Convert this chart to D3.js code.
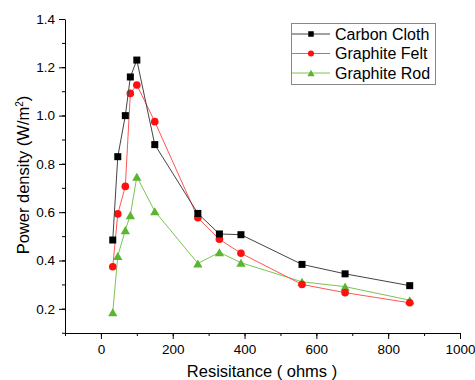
<!DOCTYPE html>
<html>
<head>
<meta charset="utf-8">
<script src="https://cdn.jsdelivr.net/npm/d3@7"></script>
<style>
  body { margin: 0; background: #fff; }
  text { font-family: "Liberation Sans", Arial, sans-serif; fill: #000; }
</style>
</head>
<body>
<div id="chart"></div>
<script>
const width = 475;
const height = 380;

// data
const resistance = [33, 47, 68, 82, 100, 150, 270, 330, 390, 560, 680, 860];
const carbonCloth = [0.485, 0.83, 1.0, 1.16, 1.23, 0.88, 0.595, 0.51, 0.507, 0.384, 0.345, 0.296];
const graphiteFelt = [0.374, 0.593, 0.707, 1.092, 1.127, 0.975, 0.577, 0.488, 0.43, 0.301, 0.267, 0.225];
const graphiteRod = [0.186, 0.419, 0.526, 0.588, 0.747, 0.604, 0.388, 0.434, 0.391, 0.312, 0.292, 0.236];

const seriesNames = ["Carbon Cloth", "Graphite Felt", "Graphite Rod"];
const xTicks = [0, 200, 400, 600, 800, 1000];
const yTicks = [0.2, 0.4, 0.6, 0.8, 1.0, 1.2, 1.4];

const series = [
  { name: seriesNames[0], values: carbonCloth, color: "#000000", line: "#444444", shape: "square" },
  { name: seriesNames[1], values: graphiteFelt, color: "#ff1010", line: "#ff5555", shape: "circle" },
  { name: seriesNames[2], values: graphiteRod, color: "#5cb531", line: "#7cc550", shape: "triangle" }
];

const svg = d3.select("#chart")
    .append("svg")
    .attr("width", width)
    .attr("height", height);

const x = d3.scaleLinear().domain([-100, 1000]).range([65, 460]);
const y = d3.scaleLinear().domain([0.1, 1.4]).range([333, 19]);

// minor ticks first (short), then major axis with labels
svg.append("g")
    .attr("transform", "translate(0,333)")
    .call(d3.axisBottom(x).tickValues(d3.range(-100, 1001, 100)).tickSize(3).tickFormat(""))
    .call(g => g.select(".domain").remove());
svg.append("g")
    .attr("transform", "translate(65,0)")
    .call(d3.axisLeft(y).tickValues(d3.range(1, 14).map(d => d / 10 + 0.001)).tickSize(3).tickFormat(""))
    .call(g => g.select(".domain").remove());

const xAxis = svg.append("g")
    .attr("transform", "translate(0,333)")
    .call(d3.axisBottom(x).tickValues(xTicks).tickSize(6).tickSizeOuter(0).tickPadding(5).tickFormat(d3.format("d")));
xAxis.selectAll("text").style("font-size", "13.5px");

const yAxis = svg.append("g")
    .attr("transform", "translate(65,0)")
    .call(d3.axisLeft(y).tickValues(yTicks).tickSize(6).tickSizeOuter(0).tickPadding(4).tickFormat(d3.format(".1f")));
yAxis.selectAll("text").style("font-size", "13.5px");

svg.selectAll(".tick line, .domain").attr("stroke", "#000").attr("stroke-width", 1);

// axis titles
svg.append("text")
    .attr("x", 262)
    .attr("y", 377)
    .attr("text-anchor", "middle")
    .style("font-size", "16.5px")
    .text("Resisitance ( ohms )");

const yTitle = svg.append("text")
    .attr("transform", "translate(29,175) rotate(-90)")
    .attr("text-anchor", "middle")
    .style("font-size", "16.5px");
yTitle.append("tspan").text("Power density (W/m");
yTitle.append("tspan").attr("dy", -6).style("font-size", "10px").text("2");
yTitle.append("tspan").attr("dy", 6).text(")");

function marker(sel, shape, size, color) {
  if (shape === "square") {
    sel.append("rect")
      .attr("x", -size / 2).attr("y", -size / 2)
      .attr("width", size).attr("height", size)
      .attr("fill", color);
  } else if (shape === "circle") {
    sel.append("circle").attr("r", size / 2 + 0.3).attr("fill", color);
  } else {
    const w = size * 1.33, h = size * 1.15;
    sel.append("path")
      .attr("d", `M0,${-h / 2}L${w / 2},${h / 2}L${-w / 2},${h / 2}Z`)
      .attr("fill", color);
  }
}

const line = d3.line()
    .x(d => x(d[0]))
    .y(d => y(d[1]));

// draw in reverse so carbon cloth sits on top
series.slice().reverse().forEach(s => {
  const pts = resistance.map((r, i) => [r, s.values[i]]);
  svg.append("path")
      .datum(pts)
      .attr("fill", "none")
      .attr("stroke", s.line)
      .attr("stroke-width", 1)
      .attr("d", line);
  svg.append("g").selectAll("g")
      .data(pts)
      .enter()
      .append("g")
      .attr("transform", d => `translate(${x(d[0])},${y(d[1])})`)
      .each(function () { marker(d3.select(this), s.shape, 7, s.color); });
});

// legend
const legend = svg.append("g");
legend.append("rect")
    .attr("x", 291.5).attr("y", 23.5)
    .attr("width", 144).attr("height", 61)
    .attr("fill", "#fff")
    .attr("stroke", "#888")
    .attr("stroke-width", 1);
series.forEach((s, i) => {
  const ly = 34 + i * 19.5;
  legend.append("line")
      .attr("x1", 292).attr("x2", 330)
      .attr("y1", ly).attr("y2", ly)
      .attr("stroke", s.line)
      .attr("stroke-width", 1);
  const m = legend.append("g").attr("transform", `translate(311,${ly})`);
  marker(m, s.shape, 5.5, s.color);
  legend.append("text")
      .attr("x", 335)
      .attr("y", ly + 5.5)
      .style("font-size", "16px")
      .text(s.name);
});
</script>
</body>
</html>
